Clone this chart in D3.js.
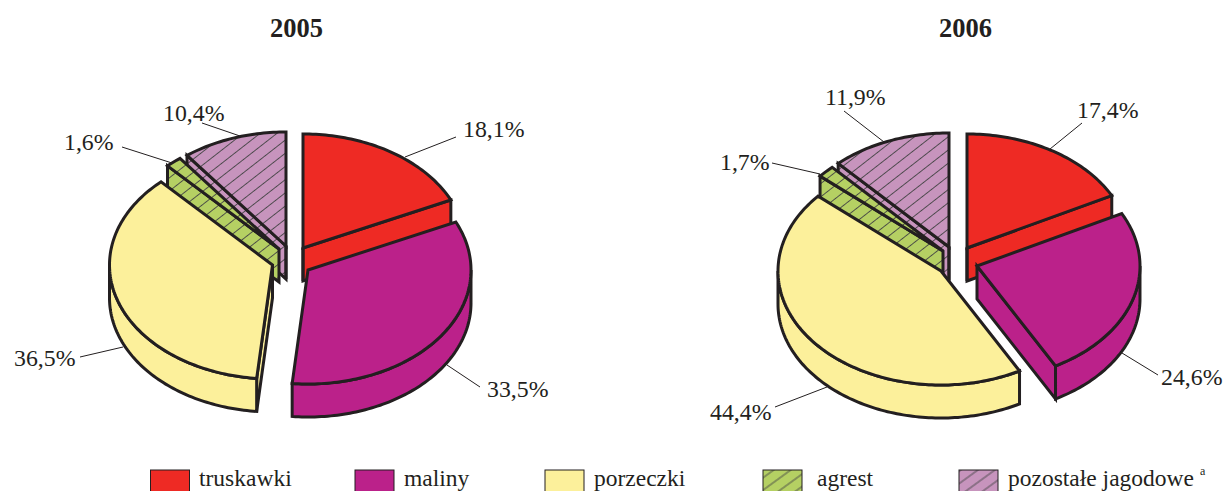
<!DOCTYPE html>
<html><head><meta charset="utf-8">
<script src="https://cdn.jsdelivr.net/npm/d3@7"></script>
<style>
html,body{margin:0;padding:0;background:#fff;overflow:hidden}
text{font-family:"Liberation Serif",serif;fill:#231f20}
</style></head><body><svg id="c" width="1227" height="491"></svg>
<script>
const categories=["truskawki","maliny","porzeczki","agrest","pozostałe jagodowe"];
const years=["2005","2006"];
const values2005=[18.1,33.5,36.5,1.6,10.4];
const values2006=[17.4,24.6,44.4,1.7,11.9];
const colors=["#ee2a24","#bb218a","#fcf09b","#b5d063","#c794bd"];
const ink="#231f20";
const RX=163,RY=114,DEPTH=33;
const layout2005={
  title:296.5,
  apex:[[303,248],[308,270],[272.5,265],[279,249],[286,246]],
  label:[[463,137],[487,397],[14,366],[64,150],[163,121]],
  leader:[[[405,157],[456,137]],[[447,365],[480,387]],[[123,347],[80,357]],[[172,163],[122,147]],[[240,136],[202,123]]]
};
const layout2006={
  title:965.5,
  apex:[[967,248],[977,266],[941,271],[943,251],[949,247]],
  label:[[1077,118],[1161,385],[710,420],[720,170],[825,105]],
  leader:[[[1050,149],[1082,123]],[[1122,353],[1158,375]],[[827,387],[775,407]],[[820,174],[772,163]],[[884,142],[844,111]]]
};
const drawOrder=[4,3,0,1,2];
const svg=d3.select("#c");
const defs=svg.append("defs");
function hatch(id,color,rot,gap){
  const p=defs.append("pattern").attr("id",id).attr("patternUnits","userSpaceOnUse")
    .attr("width",gap).attr("height",gap).attr("patternTransform",`rotate(${rot})`);
  p.append("rect").attr("width",gap).attr("height",gap).attr("fill",color);
  p.append("line").attr("x1",0).attr("x2",gap).attr("y1",gap/2).attr("y2",gap/2).attr("stroke","#444").attr("stroke-width",0.9);
}
hatch("h3",colors[3],-38,10.4);hatch("h4",colors[4],-38,10.4);
hatch("l3",colors[3],-36,10);hatch("l4",colors[4],-36,10);
const fill=(i,pre)=>i===3?`url(#${pre}3)`:i===4?`url(#${pre}4)`:colors[i];
const pie=d3.pie().sort(null).value(d=>d);
const lineGen=d3.line();
function rim(a0,a1,cx,cy){
  const n=Math.max(2,Math.ceil((a1-a0)/0.02));
  const s=d3.scaleLinear().domain([0,n]).range([a0,a1]);
  return d3.range(n+1).map(i=>[cx+RX*Math.sin(s(i)),cy-RY*Math.cos(s(i))]);
}
function drawPie(vals,L,title){
  const g=svg.append("g");
  const arcs=pie(vals);
  g.append("text").attr("x",L.title).attr("y",37).attr("text-anchor","middle")
    .attr("font-size",26.5).attr("font-weight","bold").text(title);
  L.leader.forEach(l=>g.append("path").attr("d",lineGen(l)).attr("fill","none").attr("stroke",ink).attr("stroke-width",1));
  drawOrder.forEach(i=>{
    const a=arcs[i],[cx,cy]=L.apex[i],a0=a.startAngle,a1=a.endAngle;
    const sg=g.append("g").attr("stroke",ink).attr("stroke-width",3).attr("stroke-linejoin","miter").attr("stroke-miterlimit",4);
    const down=p=>p.map(([x,y])=>[x,y+DEPTH]);
    const face=ang=>{
      const e=[cx+RX*Math.sin(ang),cy-RY*Math.cos(ang)];
      const pts=[[cx,cy],e,[e[0],e[1]+DEPTH],[cx,cy+DEPTH]];
      sg.append("path").attr("d",lineGen(pts)+"Z").attr("fill",fill(i,"h"));
    };
    if(Math.sin(a0)<-1e-6)face(a0);
    if(Math.sin(a1)>1e-6)face(a1);
    if(Math.abs(Math.sin(a0))<1e-6||Math.abs(Math.sin(a1))<1e-6){
      sg.append("path").attr("d",lineGen([[cx,cy],[cx,cy+DEPTH]])).attr("fill","none");
    }
    const w0=Math.max(a0,Math.PI/2),w1=Math.min(a1,Math.PI*1.5);
    if(w1>w0){
      const t=rim(w0,w1,cx,cy);
      sg.append("path").attr("d",lineGen(t.concat(down(t).reverse()))+"Z").attr("fill",fill(i,"h"));
    }
    const top=[[cx,cy]].concat(rim(a0,a1,cx,cy));
    sg.append("path").attr("d",lineGen(top)+"Z").attr("fill",fill(i,"h"));
    g.append("text").attr("x",L.label[i][0]).attr("y",L.label[i][1]).attr("font-size",23.8)
      .text(vals[i].toFixed(1).replace(".",",")+"%");
  });
}
drawPie(values2005,layout2005,years[0]);
drawPie(values2006,layout2006,years[1]);
const legendSwatch=[150.5,355,545,763,959],legendText=[199,404,594,817,1008];
const leg=svg.append("g");
categories.forEach((c,i)=>{
  leg.append("rect").attr("x",legendSwatch[i]).attr("y",470).attr("width",39).attr("height",24)
    .attr("fill",fill(i,"l")).attr("stroke",ink).attr("stroke-width",1);
  leg.append("text").attr("x",legendText[i]).attr("y",485.5).attr("font-size",23.5).text(c);
  if(i===4)leg.append("text").attr("x",1200).attr("y",475).attr("font-size",12).text("a");
});
</script></body></html>
